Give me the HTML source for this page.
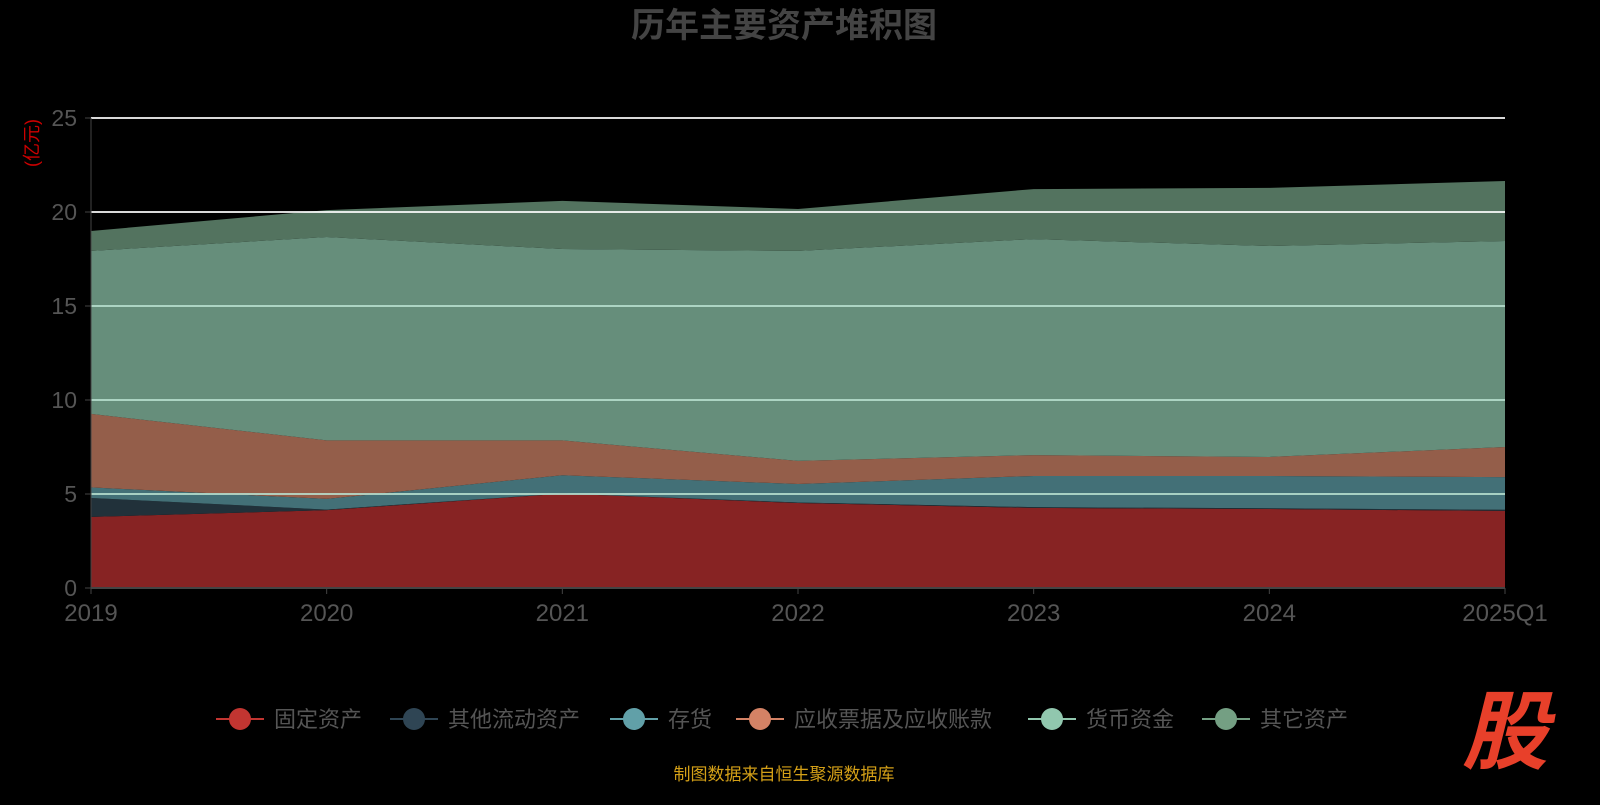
<!DOCTYPE html>
<html><head><meta charset="utf-8"><style>
body{margin:0;background:#000;width:1600px;height:800px;overflow:hidden;font-family:"Liberation Sans","Noto Sans CJK SC",sans-serif}
</style></head><body>
<svg id="c" width="1600" height="800" xmlns="http://www.w3.org/2000/svg">
<text x="784" y="37" text-anchor="middle" font-size="34" font-weight="bold" fill="#444" font-family="Liberation Sans,Noto Sans CJK SC,sans-serif">历年主要资产堆积图</text>
<text transform="translate(38,143) rotate(-90)" text-anchor="middle" font-size="18" fill="#c00" font-family="Liberation Sans,Noto Sans CJK SC,sans-serif">(亿元)</text>
<g id="areas"></g><g id="grid"></g><g id="axes"></g><g id="legend"></g>
<text x="784" y="780" text-anchor="middle" font-size="17" fill="#d4a017" font-family="Liberation Sans,Noto Sans CJK SC,sans-serif">制图数据来自恒生聚源数据库</text>
<text x="1505" y="762" text-anchor="middle" font-size="86" font-weight="bold" font-style="italic" fill="#e8402a" font-family="Noto Sans CJK SC,sans-serif">股</text>
</svg>
<script>
const categories=["2019","2020","2021","2022","2023","2024","2025Q1"];
const seriesNames=["固定资产","其他流动资产","存货","应收票据及应收账款","货币资金","其它资产"];
const fixedAssets=[3.78,4.14,5.02,4.52,4.26,4.2,4.1];
const otherCurrent=[1.01,0.03,0.0,0.03,0.04,0.04,0.06];
const inventory=[0.56,0.57,0.98,0.98,1.66,1.72,1.74];
const receivables=[3.91,3.11,1.85,1.23,1.11,1.01,1.6];
const cash=[8.67,10.82,10.18,11.17,11.49,11.22,10.96];
const otherAssets=[1.06,1.43,2.56,2.23,2.66,3.09,3.19];
const yTicks=[0,5,10,15,20,25];
const series=[fixedAssets,otherCurrent,inventory,receivables,cash,otherAssets];
const fills=["#872323","#21313a","#437077","#945e4a","#668e7b","#53735f"];
const legendColors=["#c23531","#2f4554","#61a0a8","#d48265","#91c7ae","#749f83"];
const NS="http://www.w3.org/2000/svg";
const X0=91,X1=1505,Y0=588,Y1=118;
const xs=i=>X0+(X1-X0)*i/(categories.length-1);
const ys=v=>Y0-(Y0-Y1)*v/25;
function mk(t,a,p){const e=document.createElementNS(NS,t);for(const k in a)e.setAttribute(k,a[k]);p.appendChild(e);return e;}
const areas=document.getElementById('areas');
let base=categories.map(()=>0);
series.forEach((s,si)=>{
  const top=base.map((b,i)=>b+s[i]);
  let d="M"+categories.map((c,i)=>xs(i)+","+ys(top[i])).join("L");
  for(let i=categories.length-1;i>=0;i--)d+="L"+xs(i)+","+ys(base[i]);
  const p=mk('path',{d:d+"Z",fill:fills[si]},areas);
  
  
  base=top;
});
const grid=document.getElementById('grid'),axes=document.getElementById('axes');
yTicks.forEach(t=>{
  if(t>0){const l=mk('line',{x1:X0,x2:X1,y1:ys(t),y2:ys(t),stroke:t>=20?"#ffffff":"#b8e0d0","stroke-width":2,"stroke-opacity":0.85},grid);
  
  }
  mk('line',{x1:X0-6,x2:X0,y1:ys(t),y2:ys(t),stroke:"#444"},axes);
  const tx=mk('text',{x:X0-14,y:ys(t)+8,"text-anchor":"end","font-size":23,fill:"#555"},axes);
  tx.textContent=t;
  
  
});
mk('line',{x1:X0,x2:X0,y1:Y1,y2:Y0,stroke:"#444"},axes);
mk('line',{x1:X0,x2:X1,y1:Y0,y2:Y0,stroke:"#444","stroke-width":2},axes);
categories.forEach((c,i)=>{
  mk('line',{x1:xs(i),x2:xs(i),y1:Y0,y2:Y0+6,stroke:"#444"},axes);
  const tx=mk('text',{x:xs(i),y:621,"text-anchor":"middle","font-size":24,fill:"#555"},axes);
  tx.textContent=c;
  
  
});
const lg=document.getElementById('legend');
const lx=[216,390,610,736,1028,1202];
seriesNames.forEach((n,i)=>{
  const g=mk('g',{},lg);
  
  
  mk('line',{x1:lx[i],x2:lx[i]+48,y1:719,y2:719,stroke:legendColors[i],"stroke-width":2},g);
  mk('circle',{cx:lx[i]+24,cy:719,r:11,fill:legendColors[i]},g);
  const t=mk('text',{x:lx[i]+58,y:727,"font-size":22,fill:"#555"},g);
  t.textContent=n;
});
</script>
</body></html>
